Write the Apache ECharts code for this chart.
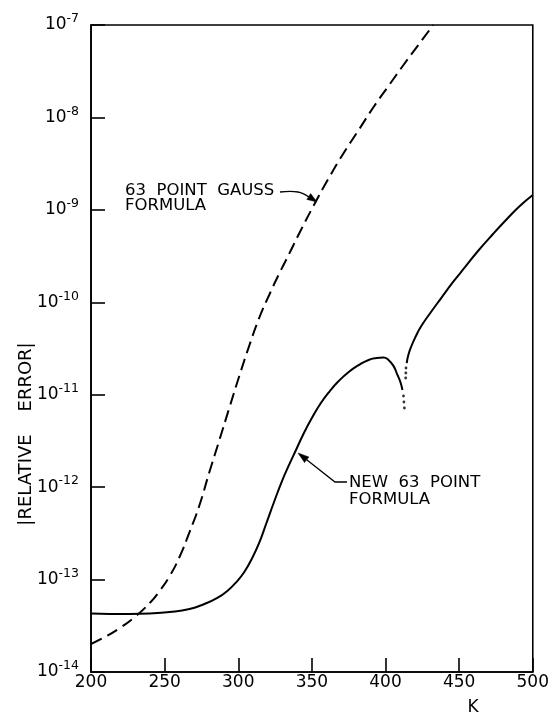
<!DOCTYPE html>
<html>
<head>
<meta charset="utf-8">
<script src="https://cdn.jsdelivr.net/npm/echarts@6/dist/echarts.min.js"></script>
<style>html,body{margin:0;padding:0;background:#fff}#c{width:552px;height:713px}</style>
</head>
<body>
<div id="c"></div>
<script>
// ---- data: K and log10 |relative error| ----
const gaussK   = [200.0,209.5,219.6,229.7,239.9,246.6,253.4,260.1,266.9,273.7,280.4,287.2,293.9,300.7,307.4,314.2,321.0,327.7,334.5,341.2,351.4,361.5,371.6,381.8,391.9,402.0,412.2,422.3,432.4];
const gaussLog = [-13.697,-13.621,-13.524,-13.405,-13.254,-13.124,-12.962,-12.756,-12.486,-12.193,-11.836,-11.490,-11.144,-10.797,-10.473,-10.170,-9.921,-9.694,-9.478,-9.261,-8.947,-8.655,-8.385,-8.136,-7.887,-7.660,-7.433,-7.216,-7.000];

const newLeftK   = [200.0,212.8,226.4,239.9,253.4,266.9,277.0,285.8,292.6,299.3,304.1,308.8,314.2,318.9,324.3,329.7,334.5,339.2,344.6,350.0,356.1,362.2,368.2,375.0,381.8,388.5,393.9,398.6,402.0,405.4,408.1,410.1,411.5];
const newLeftLog = [-13.367,-13.372,-13.372,-13.367,-13.351,-13.318,-13.264,-13.199,-13.123,-13.016,-12.918,-12.788,-12.604,-12.399,-12.161,-11.934,-11.760,-11.598,-11.414,-11.252,-11.090,-10.960,-10.852,-10.754,-10.679,-10.624,-10.603,-10.597,-10.624,-10.688,-10.786,-10.862,-10.949];

const newLeftDotK   = [412.2,412.5,412.8];
const newLeftDotLog = [-11.014,-11.079,-11.144];
const newRightDotK   = [413.7,413.8,413.9];
const newRightDotLog = [-10.819,-10.765,-10.711];

const newRightK   = [414.4,415.5,417.6,420.3,424.3,430.4,437.8,445.9,454.1,462.8,473.0,483.1,491.2,500.0];
const newRightLog = [-10.657,-10.570,-10.473,-10.376,-10.257,-10.116,-9.954,-9.780,-9.618,-9.445,-9.261,-9.088,-8.958,-8.839];

const xTicks = [200,250,300,350,400,450,500];
const yExpMin = -14, yExpMax = -7;

const FONT = 'DejaVu Sans';
const pairs = (k, l) => k.map((v, i) => [v, Math.pow(10, l[i])]);

const chart = echarts.init(document.getElementById('c'), null, {renderer: 'canvas'});
const lineCommon = {type: 'line', showSymbol: false, symbol: 'none', silent: true, animation: false, z: 3,
  smooth: 0.5};

chart.setOption({
  backgroundColor: '#fff',
  animation: false,
  grid: {left: 91, right: 17, top: 25, bottom: 41, show: true, borderColor: '#000', borderWidth: 1.6, backgroundColor: 'transparent'},
  xAxis: {
    type: 'value', min: xTicks[0], max: xTicks[xTicks.length - 1], interval: 50,
    axisLine: {show: true, lineStyle: {color: '#000', width: 1.6}},
    axisTick: {show: true, inside: true, length: 14, lineStyle: {color: '#000', width: 1.6}},
    splitLine: {show: false},
    axisLabel: {color: '#000', fontFamily: FONT, fontSize: 17, margin: 2}
  },
  yAxis: {
    type: 'log', logBase: 10, min: Math.pow(10, yExpMin), max: Math.pow(10, yExpMax), interval: 1,
    axisLine: {show: true, lineStyle: {color: '#000', width: 1.6}},
    axisTick: {show: true, inside: true, length: 14, lineStyle: {color: '#000', width: 1.6}},
    splitLine: {show: false},
    minorTick: {show: false},
    axisLabel: {
      margin: 12,
      formatter: function (v) {
        const e = Math.round(Math.log10(v));
        return '{b|10}{s|' + e + '}';
      },
      rich: {
        b: {fontFamily: FONT, fontSize: 17, color: '#000'},
        s: {fontFamily: FONT, fontSize: 12.5, color: '#000', padding: [0, 0, 12, 0]}
      }
    }
  },
  series: [
    Object.assign({}, lineCommon, {name: 'gauss', data: pairs(gaussK, gaussLog),
      lineStyle: {color: '#000', width: 2, type: [12, 6]}}),
    Object.assign({}, lineCommon, {name: 'newLeft', data: pairs(newLeftK, newLeftLog),
      lineStyle: {color: '#000', width: 2}}),
    Object.assign({}, lineCommon, {name: 'newRight', data: pairs(newRightK, newRightLog),
      lineStyle: {color: '#000', width: 2}}),
    {type: 'scatter', data: pairs(newLeftDotK, newLeftDotLog), symbol: 'circle', symbolSize: 2.8,
      itemStyle: {color: '#000'}, silent: true, z: 3},
    {type: 'scatter', data: pairs(newRightDotK, newRightDotLog), symbol: 'circle', symbolSize: 2.8,
      itemStyle: {color: '#000'}, silent: true, z: 3}
  ],
  graphic: [
    {type: 'text', x: 26, y: 434, rotation: Math.PI / 2,
      style: {text: '|RELATIVE    ERROR|', font: '18px "DejaVu Sans"', fill: '#000', textAlign: 'center', textVerticalAlign: 'middle'}},
    {type: 'text', x: 473, y: 708,
      style: {text: 'K', font: '17px "DejaVu Sans"', fill: '#000', textAlign: 'center', textVerticalAlign: 'middle'}},
    {type: 'text', x: 125, y: 191,
      style: {text: '63  POINT  GAUSS', font: '16.5px "DejaVu Sans"', fill: '#000', textAlign: 'left', textVerticalAlign: 'middle'}},
    {type: 'text', x: 125, y: 206,
      style: {text: 'FORMULA', font: '16.5px "DejaVu Sans"', fill: '#000', textAlign: 'left', textVerticalAlign: 'middle'}},
    {type: 'text', x: 349, y: 483,
      style: {text: 'NEW  63  POINT', font: '16.5px "DejaVu Sans"', fill: '#000', textAlign: 'left', textVerticalAlign: 'middle'}},
    {type: 'text', x: 349, y: 500,
      style: {text: 'FORMULA', font: '16.5px "DejaVu Sans"', fill: '#000', textAlign: 'left', textVerticalAlign: 'middle'}},
    // gauss arrow
    {type: 'polyline', shape: {points: [[280, 192], [298, 192], [309, 197]], smooth: 0.4},
      style: {stroke: '#000', lineWidth: 1.3, fill: null}},
    {type: 'polygon', shape: {points: [[317, 202], [306.8, 199.4], [310.6, 193.6]]},
      style: {fill: '#000', stroke: '#000', lineWidth: 0.5}},
    // new formula arrow
    {type: 'polyline', shape: {points: [[347, 482], [335, 482], [306.7, 459.8]]},
      style: {stroke: '#000', lineWidth: 1.3, fill: null}},
    {type: 'polygon', shape: {points: [[298, 453], [308.9, 457.0], [304.5, 462.6]]},
      style: {fill: '#000', stroke: '#000', lineWidth: 0.5}}
  ]
});
</script>
</body>
</html>
